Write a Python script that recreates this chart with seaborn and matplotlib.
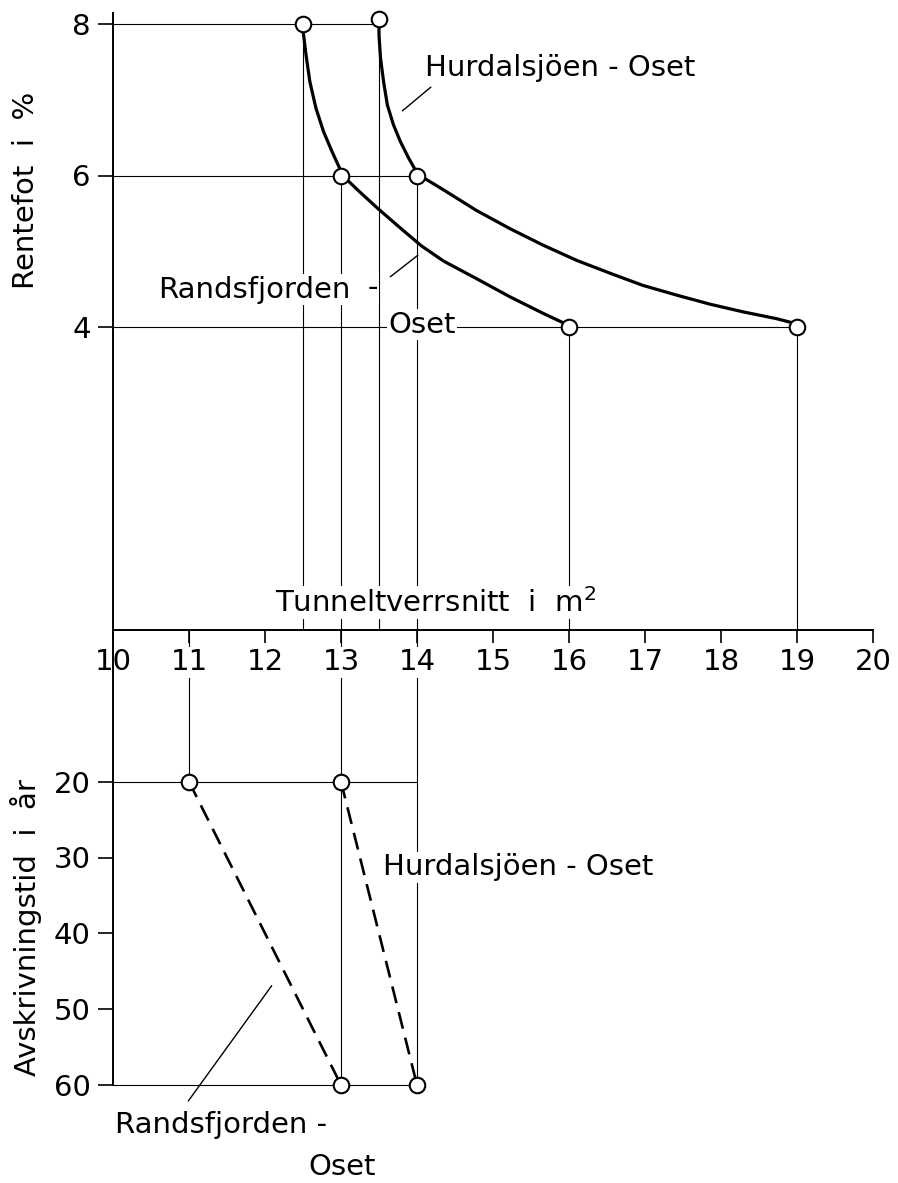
import numpy as np
import pandas as pd
import matplotlib
matplotlib.use("Agg")
import matplotlib.pyplot as plt
import seaborn as sns

# Tunnel cross-section (m2) against interest rate (%)
rands_x = [12.48, 12.51, 12.54, 12.59, 12.67, 12.77, 12.88, 12.98, 13.02, 13.25, 13.49,
           13.80, 14.06, 14.35, 14.78, 15.22, 15.66, 16.0]
rands_y = [8.02, 7.84, 7.59, 7.24, 6.89, 6.58, 6.32, 6.10, 6.0, 5.78, 5.56,
           5.29, 5.07, 4.87, 4.64, 4.40, 4.18, 4.02]
hurdal_x = [13.5, 13.50, 13.52, 13.56, 13.61, 13.69, 13.78, 13.89, 13.98, 14.02, 14.35,
            14.78, 15.22, 15.66, 16.10, 16.54, 16.97, 17.42, 17.86, 18.29, 18.73, 19.0]
hurdal_y = [8.06, 7.85, 7.55, 7.24, 6.93, 6.67, 6.45, 6.23, 6.07, 6.01, 5.81,
            5.54, 5.30, 5.08, 4.88, 4.71, 4.55, 4.42, 4.30, 4.20, 4.11, 4.04]

# marked points on the curves
rands_pts_x = [12.5, 13.0, 16.0]
rands_pts_y = [8.0, 6.0, 4.0]
hurdal_pts_x = [13.5, 14.0, 19.0]
hurdal_pts_y = [8.06, 6.0, 4.0]

# Tunnel cross-section against depreciation time (years)
rands_dep_x = [11, 13]
rands_dep_y = [20, 60]
hurdal_dep_x = [13, 14]
hurdal_dep_y = [20, 60]

x_ticks = list(range(10, 21))
rate_ticks = [4, 6, 8]
year_ticks = [20, 30, 40, 50, 60]

sns.set_style("white")
plt.rcParams['font.family'] = ['DejaVu Sans']
plt.rcParams['text.color'] = 'black'
plt.rcParams['axes.labelcolor'] = 'black'
plt.rcParams['xtick.color'] = 'black'
plt.rcParams['ytick.color'] = 'black'

FS = 21
W, H = 898, 1183
fig = plt.figure(figsize=(W / 100, H / 100), dpi=100)
ax_bot = fig.add_axes([113 / W, 1 - 1085 / H, 760 / W, 455 / H])
ax_top = fig.add_axes([113 / W, 1 - 630 / H, 760 / W, 617 / H])
ax_top.set_zorder(2)
ax_bot.set_zorder(1)
for ax in (ax_top, ax_bot):
    ax.patch.set_visible(False)
    ax.set_xlim(10, 20)
    for s in ax.spines.values():
        s.set_visible(False)
    ax.spines['left'].set_visible(True)
    ax.spines['left'].set_linewidth(1.4)
    ax.spines['left'].set_color('black')

ax_top.set_ylim(0, 617 / 75.75)
ax_bot.set_ylim(60, 0)
ax_top.spines['bottom'].set_visible(True)
ax_top.spines['bottom'].set_linewidth(1.4)
ax_top.spines['bottom'].set_color('black')

guide = dict(color='black', lw=0.8, zorder=1)

# guide lines, upper panel
all_x = rands_pts_x + hurdal_pts_x
all_y = rands_pts_y + hurdal_pts_y
for level in rate_ticks:
    ends = [px for px, py in zip(all_x, all_y) if round(py) == level]
    ax_top.hlines(level, 10, max(ends), **guide)
for px, py in zip(all_x, all_y):
    if px not in (13.0, 14.0):
        ax_top.vlines(px, 0, py, **guide)
# x = 13 and x = 14 run through both panels
for px in [13.0, 14.0]:
    ax_top.vlines(px, 0, 6.0, **guide)
    ax_bot.vlines(px, 0, 60, **guide)

# guide lines, lower panel
right_edge = max(hurdal_dep_x)
for py in sorted(set(rands_dep_y + hurdal_dep_y)):
    ax_bot.hlines(py, 10, right_edge, **guide)
ax_bot.vlines(rands_dep_x[0], 0, rands_dep_y[0], **guide)

# curves
for xs, ys in [(rands_x, rands_y), (hurdal_x, hurdal_y)]:
    sns.lineplot(x=xs, y=ys, sort=False, estimator=None, color='black',
                 lw=2.3, ax=ax_top, zorder=3)

for xs, ys in [(rands_dep_x, rands_dep_y), (hurdal_dep_x, hurdal_dep_y)]:
    sns.lineplot(x=xs, y=ys, sort=False, estimator=None, color='black',
                 lw=1.9, ax=ax_bot, zorder=3)
for ln in ax_bot.get_lines():
    if ln.get_linewidth() > 1.5:
        ln.set_dashes((6.5, 3.5))

mk = dict(s=125, color='white', edgecolor='black', linewidth=1.5, zorder=5, clip_on=False)
sns.scatterplot(x=all_x, y=all_y, ax=ax_top, **mk)
sns.scatterplot(x=rands_dep_x + hurdal_dep_x, y=rands_dep_y + hurdal_dep_y, ax=ax_bot, **mk)

for ax in (ax_top, ax_bot):
    for art in ax.get_children():
        if hasattr(art, 'set_clip_on'):
            art.set_clip_on(False)
    for ln in ax.get_lines():
        ln.set_solid_joinstyle('round')

# ticks
ax_top.set_xticks(x_ticks)
ax_top.set_xticklabels([str(t) for t in x_ticks])
ax_top.tick_params(axis='x', direction='out', length=9, width=1.2, pad=4,
                   labelsize=FS, bottom=True)
ax_top.set_yticks(rate_ticks)
ax_top.tick_params(axis='y', direction='out', length=11, width=1.2, pad=5,
                   labelsize=FS, left=True)
ax_top.set_axisbelow(False)
for lab in ax_top.get_xticklabels():
    if lab.get_text() != '10':
        lab.set_bbox(dict(facecolor='white', edgecolor='none', pad=1))

ax_bot.set_xticks([])
ax_bot.set_yticks(year_ticks)
ax_bot.tick_params(axis='y', direction='out', length=11, width=1.2, pad=5,
                   labelsize=FS, left=True)

ax_top.set_ylabel("Rentefot  i  %", fontsize=FS, va='center')
ax_top.yaxis.set_label_coords(-0.115, 0.713)
ax_bot.set_ylabel("Avskrivningstid  i  år", fontsize=FS, va='center')
ax_bot.yaxis.set_label_coords(-0.114, 0.345)

wb = dict(facecolor='white', edgecolor='none', pad=1)
ax_top.text(14.1, 7.42, "Hurdalsjöen - Oset", fontsize=FS, ha='left', va='center')
ax_top.annotate("", xy=(14.21, 7.19), xytext=(13.78, 6.83),
                arrowprops=dict(arrowstyle='-', lw=1, color='black'))
ax_top.text(10.59, 4.49, "Randsfjorden", fontsize=FS, ha='left', va='center',
            bbox=wb, zorder=4)
ax_top.text(13.35, 4.52, "-", fontsize=FS, ha='left', va='center', bbox=wb, zorder=4)
ax_top.text(13.62, 4.03, "Oset", fontsize=FS, ha='left', va='center', bbox=wb, zorder=4)
ax_top.annotate("", xy=(14.04, 4.97), xytext=(13.62, 4.64),
                arrowprops=dict(arrowstyle='-', lw=1, color='black'))
ax_top.text(12.13, 0.36, r"Tunneltverrsnitt  i  m$^2$", fontsize=FS, ha='left',
            va='center', bbox=wb, zorder=4)

ax_bot.text(13.55, 31.3, "Hurdalsjöen - Oset", fontsize=FS, ha='left', va='center',
            bbox=wb, zorder=4)
ax_bot.text(10.03, 65.3, "Randsfjorden -", fontsize=FS, ha='left', va='center',
            clip_on=False)
ax_bot.text(12.57, 70.8, "Oset", fontsize=FS, ha='left', va='center', clip_on=False)
ax_bot.annotate("", xy=(12.11, 46.6), xytext=(10.97, 62.4),
                arrowprops=dict(arrowstyle='-', lw=1, color='black'),
                annotation_clip=False)

fig.savefig("out.png", dpi=100, facecolor='white')
